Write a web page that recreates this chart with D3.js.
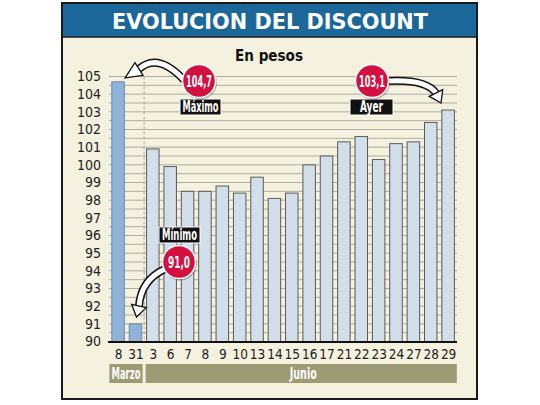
<!DOCTYPE html>
<html><head><meta charset="utf-8">
<script src="https://cdn.jsdelivr.net/npm/d3@7"></script>
<style>body{margin:0;background:#fff}svg{display:block}</style>
</head><body>
<script>
const days   = ["8","31","3","6","7","8","9","10","13","14","15","16","17","21","22","23","24","27","28","29"];
const months = ["Marzo","Marzo","Junio","Junio","Junio","Junio","Junio","Junio","Junio","Junio","Junio","Junio","Junio","Junio","Junio","Junio","Junio","Junio","Junio","Junio"];
const values = [104.7,91.0,100.9,99.9,98.5,98.5,98.8,98.4,99.3,98.1,98.4,100.0,100.5,101.3,101.6,100.3,101.2,101.3,102.4,103.1];
const yTicks = [90,91,92,93,94,95,96,97,98,99,100,101,102,103,104,105];
const title = "EVOLUCION DEL DISCOUNT";
const subtitle = "En pesos";

const W=540,H=405;
const svg=d3.select("body").append("svg").attr("width",W).attr("height",H);
const cond="'DejaVu Sans Condensed','DejaVu Sans',sans-serif";

// frame
svg.append("rect").attr("x",62).attr("y",3).attr("width",415).attr("height",396)
  .attr("fill","#f4f1de").attr("stroke","#1a1a1a").attr("stroke-width",2);
svg.append("rect").attr("x",63).attr("y",4).attr("width",413).attr("height",33).attr("fill","#1b679a");
svg.append("line").attr("x1",63).attr("x2",476).attr("y1",37).attr("y2",37).attr("stroke","#1a1a1a").attr("stroke-width",1.5);
svg.append("text").attr("x",270).attr("y",29).attr("text-anchor","middle")
  .attr("font-family","'DejaVu Sans',sans-serif").attr("font-weight","bold").attr("font-size",21)
  .attr("textLength",316).attr("lengthAdjust","spacingAndGlyphs")
  .attr("fill","#fff").text(title);
svg.append("text").attr("x",269).attr("y",61).attr("text-anchor","middle")
  .attr("font-family","'DejaVu Sans',sans-serif").attr("font-weight","bold").attr("font-size",15)
  .attr("textLength",68).attr("lengthAdjust","spacingAndGlyphs")
  .attr("fill","#111").text(subtitle);

const y=d3.scaleLinear().domain([90,105]).range([341.5,76.5]);
const x=d3.scalePoint().domain(d3.range(days.length)).range([109.4,456.8]).padding(0.5);
const bw=12.5, step=x.step();
const left=109, right=457;

// gridlines at half units
const grid=d3.range(90.5,105.01,0.5);
svg.append("g").selectAll("line").data(grid).join("line")
  .attr("x1",left).attr("x2",right).attr("y1",d=>y(d)).attr("y2",d=>y(d))
  .attr("stroke","#aeaca0").attr("stroke-width",1);
// dashed separator
svg.append("line").attr("x1",(x(1)+x(2))/2).attr("x2",(x(1)+x(2))/2).attr("y1",y(105)).attr("y2",y(90))
  .attr("stroke","#aaa").attr("stroke-dasharray","3,2");

// bars
svg.append("g").selectAll("rect").data(values).join("rect")
  .attr("x",(d,i)=>x(i)-bw/2).attr("width",bw)
  .attr("y",d=>y(d)).attr("height",d=>y(90)-y(d))
  .attr("fill",(d,i)=>months[i]==="Marzo"?"#8fb2d8":"#d2dfea")
  .attr("stroke",(d,i)=>months[i]==="Marzo"?"#6f8aa8":"#5a5a5a").attr("stroke-width",1);

// baseline
svg.append("line").attr("x1",left-1).attr("x2",right).attr("y1",y(90)+0.5).attr("y2",y(90)+0.5)
  .attr("stroke","#111").attr("stroke-width",2);

// y axis
const ya=svg.append("g").attr("transform","translate(101,0)")
  .call(d3.axisLeft(y).tickValues(yTicks).tickSize(0).tickPadding(0).tickFormat(d3.format("d")));
ya.select(".domain").remove();
ya.selectAll("text").attr("font-family",cond).attr("font-size",14).attr("fill","#222");

// x axis labels
const xa=svg.append("g").attr("transform",`translate(0,${y(90)})`)
  .call(d3.axisBottom(x).tickSize(0).tickPadding(8).tickFormat(i=>days[i]));
xa.select(".domain").remove();
xa.selectAll("text").attr("font-family",cond).attr("font-size",13.5).attr("fill","#222");

// month bands
const groups=d3.groups(d3.range(days.length),i=>months[i]);
groups.forEach(([m,idx],k)=>{
  const x0=x(idx[0])-step/2+(k>0?1.5:0), x1=x(idx[idx.length-1])+step/2-(k<groups.length-1?1.5:0);
  svg.append("rect").attr("x",x0).attr("y",364).attr("width",x1-x0).attr("height",19).attr("fill","#9c9b74");
  svg.append("text").attr("x",(x0+x1)/2+(k===0?0:2)).attr("y",379).attr("text-anchor","middle")
    .attr("font-family",cond).attr("font-weight","bold").attr("font-size",15)
    .attr("textLength",k===0?29:27).attr("lengthAdjust","spacingAndGlyphs")
    .attr("fill","#fff").text(m);
});

// arrows
function arrow(p0,c,p1,tip){
  const g=svg.append("g");
  const path=`M${p0[0]},${p0[1]} Q${c[0]},${c[1]} ${p1[0]},${p1[1]}`;
  g.append("path").attr("d",path).attr("fill","none").attr("stroke","#111").attr("stroke-width",8);
  const ang=Math.atan2(tip[1]-p1[1],tip[0]-p1[0]);
  const px=-Math.sin(ang), py=Math.cos(ang), hw=7.5;
  const pts=[[p1[0]+px*hw,p1[1]+py*hw],tip,[p1[0]-px*hw,p1[1]-py*hw]];
  g.append("path").attr("d",path).attr("fill","none").attr("stroke","#fff").attr("stroke-width",5);
  g.append("polygon").attr("points",pts.map(p=>p.join(",")).join(" "))
    .attr("fill","#fff").attr("stroke","#111").attr("stroke-width",1.3).attr("stroke-linejoin","miter");
}
arrow([184,80],[158,52],[139,69],[x(0)+7,y(104.7)-4]);
arrow([388,81],[426,79],[436,93],[441,103]);
arrow([165,269],[141,280],[139,306],[x(1)+1,317]);

// callouts
function badge(cx,cy,txt){
  svg.append("circle").attr("cx",cx+1).attr("cy",cy+1.5).attr("r",17).attr("fill","#000").attr("opacity",0.25);
  svg.append("circle").attr("cx",cx).attr("cy",cy).attr("r",16.5).attr("fill","#d3103f").attr("stroke","#fff").attr("stroke-width",1.5);
  svg.append("text").attr("x",cx).attr("y",cy+5.5).attr("text-anchor","middle")
    .attr("font-family",cond).attr("font-weight","bold").attr("font-size",16)
    .attr("textLength",txt.length>4?26:22).attr("lengthAdjust","spacingAndGlyphs")
    .attr("fill","#fff").text(txt);
}
function tag(x0,y0,w,h,txt,tw){
  svg.append("rect").attr("x",x0).attr("y",y0).attr("width",w).attr("height",h).attr("fill","#111").attr("stroke","#fff").attr("stroke-width",1);
  svg.append("text").attr("x",x0+w/2).attr("y",y0+h-3).attr("text-anchor","middle")
    .attr("font-family",cond).attr("font-weight","bold").attr("font-size",15)
    .attr("textLength",tw).attr("lengthAdjust","spacingAndGlyphs")
    .attr("fill","#fff").text(txt);
}
const fmt=v=>v.toFixed(1).replace(".",",");
tag(180,99,41,16,"Máximo",36);
badge(199,81,fmt(values[0]));
tag(350,99,43,16,"Ayer",23);
badge(372,81,fmt(values[values.length-1]));
tag(159,227,41,16,"Mínimo",35);
badge(179,262,fmt(values[1]));
</script>
</body></html>
